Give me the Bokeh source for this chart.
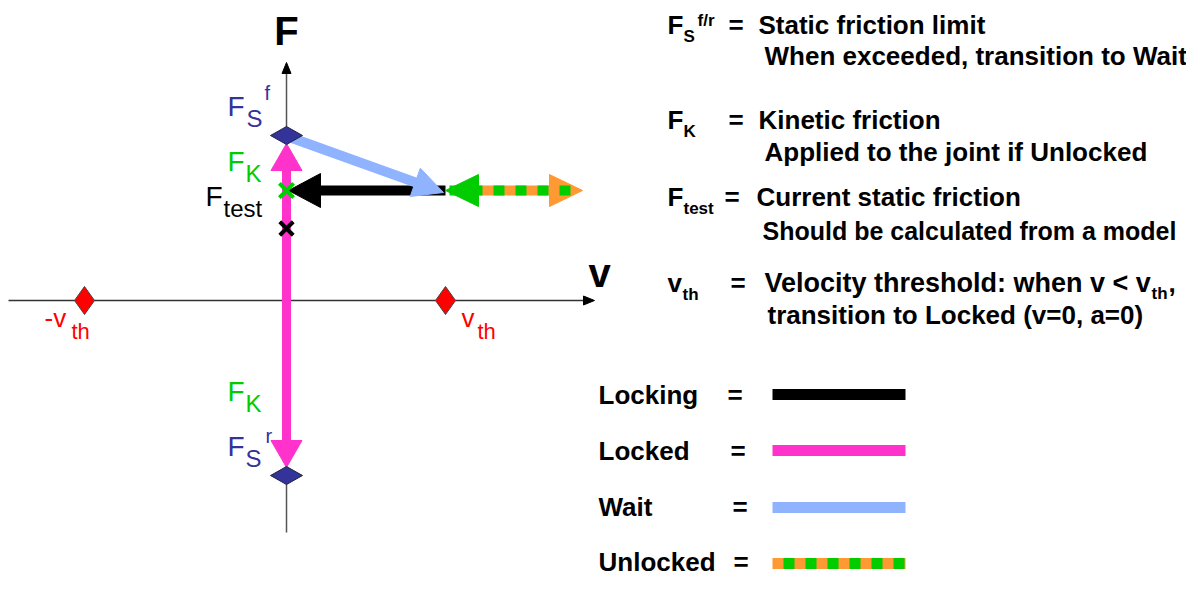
import math
from bokeh.plotting import figure
from bokeh.models import Range1d
from bokeh.core.properties import value
from bokeh.embed import file_html
from bokeh.resources import INLINE

# ---------------- diagram data (picture pixel coordinates) ----------------
ORIGIN_X = 286          # F axis position (v = 0)
ORIGIN_Y = 300          # v axis position (F = 0)
V_AXIS_RANGE = [8, 594]
F_AXIS_RANGE = [532, 62]
VTH_POS = [84, 445]                 # -v_th, v_th along v axis
FS_POS = [135, 475]                 # F_s^f, F_s^r along F axis
FK_POS = 190                        # F_K level (marker)
FTEST_POS = 228                     # F_test level (marker)

# legend
legend_names = ["Locking", "Locked", "Wait", "Unlocked"]
legend_y = [405, 461, 517, 572]
legend_line_y = [394, 450, 507, 563]
legend_eq_x = [727, 730, 732, 733]

# right-hand definitions: (symbol, subscript, superscript, eq x, line1, line2)
def_rows = [
    ("F", "S", "f/r", 728, "Static friction limit", "When exceeded, transition to Wait"),
    ("F", "K", "", 728, "Kinetic friction", "Applied to the joint if Unlocked"),
    ("F", "test", "", 724, "Current static friction", "Should be calculated from a model"),
    ("v", "th", "", 730, "Velocity threshold: when v < v", "transition to Locked (v=0, a=0)"),
]
def_base_y = [35, 130, 207, 293]
def_line2_y = [66, 162, 240, 325]
def_text_x = [758, 758, 756, 764]
def_line2_x = [764, 764, 762, 767]
def_line1_size = [26, 26, 26, 27]
def_line2_size = [26, 26, 25, 26]
def_sub_x = [683, 683, 683, 682]

PINK = "#FF33CC"
BLUE = "#8FB3FF"
ORANGE = "#FF9933"
GREEN = "#00CC00"
NAVY = "#333399"
RED = "#FF0000"
FONT = value("Liberation Sans")

W, H = 1186, 580
p = figure(width=W, height=H, x_range=Range1d(0, W), y_range=Range1d(H, 0),
           output_backend="svg", toolbar_location=None, min_border=0,
           x_axis_location=None, y_axis_location=None)
p.grid.visible = False
p.outline_line_color = None
p.background_fill_color = "white"


def t(x, y, s, size, color="black", bold=False, align="left"):
    # y is the intended alphabetic baseline; compensate renderer offset
    p.text(x=[x], y=[y - 0.4 * size], text=[s], text_font=FONT, text_font_size=f"{size}px",
           text_font_style="bold" if bold else "normal", text_color=color,
           text_align=align, text_baseline="alphabetic")


def head(xt, yt, ux, uy, hl, hw, color):
    px, py = -uy, ux
    bx, by = xt - hl * ux, yt - hl * uy
    p.patch(x=[xt, bx + hw / 2 * px, bx - hw / 2 * px], y=[yt, by + hw / 2 * py, by - hw / 2 * py],
            fill_color=color, line_color=color, line_width=1)


def arrow(x0, y0, x1, y1, color, lw, hl=0, start=False, end=True):
    dx, dy = x1 - x0, y1 - y0
    L = math.hypot(dx, dy)
    ux, uy = dx / L, dy / L
    sx0 = x0 + (hl * 0.6 * ux if start else 0)
    sy0 = y0 + (hl * 0.6 * uy if start else 0)
    sx1 = x1 - (hl * 0.6 * ux if end else 0)
    sy1 = y1 - (hl * 0.6 * uy if end else 0)
    p.line(x=[sx0, sx1], y=[sy0, sy1], line_color=color, line_width=lw, line_cap="butt")
    return ux, uy


def diamond(cx, cy, hw, hh, fill, line):
    p.patch(x=[cx - hw, cx, cx + hw, cx], y=[cy, cy - hh, cy, cy + hh],
            fill_color=fill, line_color=line, line_width=1)


# ---------------- axes ----------------
p.line(x=[V_AXIS_RANGE[0], V_AXIS_RANGE[1] - 8], y=[ORIGIN_Y, ORIGIN_Y], line_color="#333333", line_width=1.5)
head(V_AXIS_RANGE[1], ORIGIN_Y, 1, 0, 11, 9, "black")
p.line(x=[ORIGIN_X, ORIGIN_X], y=[F_AXIS_RANGE[0], F_AXIS_RANGE[1] + 8], line_color="#555555", line_width=1.5)
head(ORIGIN_X, F_AXIS_RANGE[1], 0, -1, 11, 9, "black")
t(ORIGIN_X, 46, "F", 40, bold=True, align="center")
t(588, 288, "v", 40, bold=True)

# ---------------- Locked (pink, double-headed) ----------------
top_tip = FS_POS[0] + 8
bot_tip = FS_POS[1] - 8
p.line(x=[ORIGIN_X, ORIGIN_X], y=[top_tip + 20, bot_tip - 20], line_color=PINK, line_width=9)
head(ORIGIN_X, top_tip, 0, -1, 27, 31, PINK)
head(ORIGIN_X, bot_tip, 0, 1, 27, 31, PINK)

# ---------------- Locking (black) ----------------
arrow(VTH_POS[1], FK_POS, ORIGIN_X + 2, FK_POS, "black", 10, hl=32)
head(ORIGIN_X + 2, FK_POS, -1, 0, 32, 34, "black")

# ---------------- Wait (blue) ----------------
ux, uy = arrow(ORIGIN_X + 4, FS_POS[0] + 2, VTH_POS[1] - 2, FK_POS + 2, BLUE, 10, hl=30)
head(VTH_POS[1] - 2, FK_POS + 2, ux, uy, 30, 30, BLUE)

# ---------------- Unlocked (orange/green) ----------------
un_end = 582
p.line(x=[VTH_POS[1] + 20, un_end - 20], y=[FK_POS, FK_POS], line_color=ORANGE, line_width=10, line_cap="butt")
head(un_end, FK_POS, 1, 0, 33, 32, ORANGE)
head(VTH_POS[1], FK_POS, -1, 0, 33, 32, GREEN)
p.line(x=[VTH_POS[1] + 4, un_end - 11], y=[FK_POS, FK_POS], line_color=GREEN, line_width=10,
       line_dash="11 11", line_cap="butt")

# ---------------- markers ----------------
p.scatter(x=[ORIGIN_X], y=[FK_POS], marker="x", size=20, line_color=GREEN, line_width=4)
p.scatter(x=[ORIGIN_X], y=[FTEST_POS], marker="x", size=19, line_color="black", line_width=4)
for fy in FS_POS:
    diamond(ORIGIN_X, fy, 16, 9, NAVY, "#222244")
for vx in VTH_POS:
    diamond(vx, ORIGIN_Y, 10, 14, RED, "#444444")

# ---------------- diagram labels ----------------
t(227, 117, "F", 28, NAVY); t(246, 128, "S", 24, NAVY); t(264, 100, "f", 20, NAVY)
t(227, 172, "F", 28, GREEN); t(245, 183, "K", 24, GREEN)
t(205, 207, "F", 28, "black"); t(223, 218, "test", 24, "black")
t(227, 402, "F", 28, GREEN); t(245, 413, "K", 24, GREEN)
t(227, 457, "F", 28, NAVY); t(245, 468, "S", 24, NAVY); t(265, 443, "r", 20, NAVY)
t(44, 328, "-v", 26, RED); t(71, 340, "th", 22, RED)
t(461, 328, "v", 26, RED); t(477, 340, "th", 22, RED)

# ---------------- right-hand definitions ----------------
for i, (sym, sub, sup, eqx, l1, l2) in enumerate(def_rows):
    by = def_base_y[i]
    t(667, by, sym, 26, bold=True)
    t(def_sub_x[i], by + 8, sub, 17, bold=True)
    if sup:
        t(697, by - 8, sup, 17, bold=True)
    t(eqx, by, "=", 26, bold=True)
    t(def_text_x[i], by, l1, def_line1_size[i], bold=True)
    t(def_line2_x[i], def_line2_y[i], l2, def_line2_size[i], bold=True)
t(1151, def_base_y[3] + 7, "th", 17, bold=True)
t(1168, def_base_y[3], ",", 26, bold=True)

# ---------------- legend ----------------
leg_colors = ["black", PINK, BLUE, ORANGE]
for i, name in enumerate(legend_names):
    t(598, legend_y[i], name, 26, bold=True)
    t(legend_eq_x[i], legend_y[i], "=", 26, bold=True)
    p.line(x=[772, 905], y=[legend_line_y[i]] * 2, line_color=leg_colors[i], line_width=11, line_cap="butt")
p.line(x=[783, 905], y=[legend_line_y[3]] * 2, line_color=GREEN, line_width=11, line_dash="11 11", line_cap="butt")

open("out.html", "w").write(file_html(p, INLINE))
